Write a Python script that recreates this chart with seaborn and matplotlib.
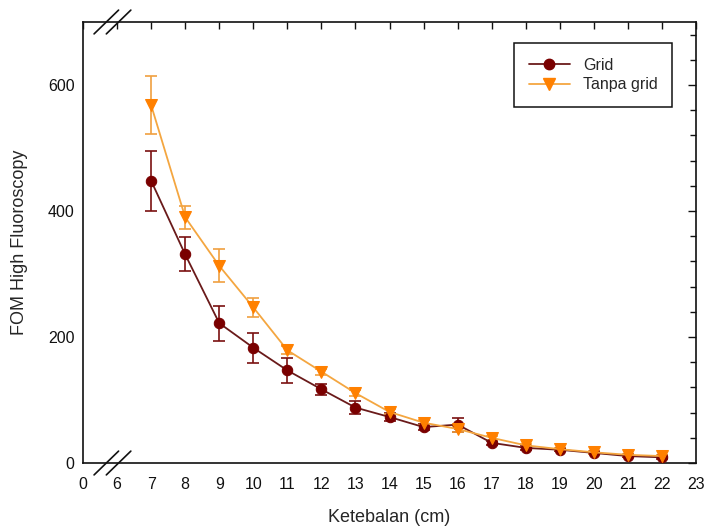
import numpy as np
import pandas as pd
import matplotlib
matplotlib.use('Agg')
import matplotlib.pyplot as plt
import matplotlib.ticker as mticker
from matplotlib.lines import Line2D
import seaborn as sns

# data
tebal = [7, 8, 9, 10, 11, 12, 13, 14, 15, 16, 17, 18, 19, 20, 21, 22]
fom_grid = [448, 331, 222, 183, 147, 117, 88, 73, 57, 61, 32, 24, 21, 16, 11, 9]
err_grid = [48, 27, 28, 24, 20, 9, 11, 6, 5, 11, 3, 3, 2, 2, 2, 2]
fom_tanpa = [568, 390, 313, 247, 179, 145, 111, 81, 64, 54, 40, 28, 22, 17, 13, 11]
err_tanpa = [46, 18, 26, 15, 6, 5, 5, 4, 4, 5, 3, 2, 2, 2, 2, 2]

xtick_pos = [5, 6, 7, 8, 9, 10, 11, 12, 13, 14, 15, 16, 17, 18, 19, 20, 21, 22, 23]
xtick_lab = ['0', '6', '7', '8', '9', '10', '11', '12', '13', '14', '15', '16',
             '17', '18', '19', '20', '21', '22', '23']

sns.set_style('white')
plt.rcParams['font.family'] = ['Liberation Sans', 'DejaVu Sans']

df = pd.DataFrame({'x': tebal * 2,
                   'y': fom_grid + fom_tanpa,
                   'seri': ['Grid'] * len(tebal) + ['Tanpa grid'] * len(tebal)})

c_grid_m = '#7a0000'
c_grid_l = '#6a1a1a'
c_tanpa_m = '#ff8000'
c_tanpa_l = '#f4a640'

fig = plt.figure(figsize=(7.06, 5.30), dpi=100)
ax = fig.add_axes([0.1176, 0.1264, 0.8683, 0.8321])

ax.errorbar(tebal, fom_grid, yerr=err_grid, fmt='none', ecolor='#7a1010',
            elinewidth=1.2, capsize=4.5, capthick=1.2, zorder=2)
ax.errorbar(tebal, fom_tanpa, yerr=err_tanpa, fmt='none', ecolor='#f0a040',
            elinewidth=1.2, capsize=4.5, capthick=1.2, zorder=2)

sns.lineplot(data=df[df.seri == 'Grid'], x='x', y='y', ax=ax, color=c_grid_l,
             lw=1.3, marker='o', markersize=7.5, markerfacecolor=c_grid_m,
             markeredgecolor=c_grid_m, zorder=3, legend=False)
sns.lineplot(data=df[df.seri == 'Tanpa grid'], x='x', y='y', ax=ax, color=c_tanpa_l,
             lw=1.3, marker='v', markersize=8.5, markerfacecolor=c_tanpa_m,
             markeredgecolor=c_tanpa_m, zorder=4, legend=False)

ax.set_xlim(5, 23)
ax.set_ylim(0, 700)
ax.set_xticks(xtick_pos)
ax.set_xticklabels(xtick_lab)
ax.yaxis.set_major_locator(mticker.MultipleLocator(200))
ax.yaxis.set_minor_locator(mticker.MultipleLocator(40))
ax.tick_params(axis='both', which='both', direction='in', top=True, right=True,
               labelsize=11.5, colors='#111111', width=1)
ax.tick_params(axis='x', which='major', length=5, pad=10)
ax.tick_params(axis='y', which='major', length=6, pad=6)
ax.tick_params(axis='y', which='minor', length=4)
for s in ax.spines.values():
    s.set_color('#111111')
    s.set_linewidth(1.2)

ax.set_xlabel('Ketebalan (cm)', fontsize=13, labelpad=12)
ax.set_ylabel('FOM High Fluoroscopy', fontsize=13, labelpad=14)

# axis break marks
for yc in (0.0, 1.0):
    for xc in (0.038, 0.058):
        ax.plot([xc - 0.02, xc + 0.02], [yc - 0.027, yc + 0.027], transform=ax.transAxes,
                color='#111111', lw=1.2, clip_on=False, zorder=6)

handles = [Line2D([], [], color=c_grid_l, lw=1.3, marker='o', markersize=7.5,
                  markerfacecolor=c_grid_m, markeredgecolor=c_grid_m),
           Line2D([], [], color=c_tanpa_l, lw=1.3, marker='v', markersize=8.5,
                  markerfacecolor=c_tanpa_m, markeredgecolor=c_tanpa_m)]
leg = ax.legend(handles, ['Grid', 'Tanpa grid'], loc='upper right',
                bbox_to_anchor=(0.961, 0.952), borderaxespad=0, fontsize=11.5,
                handlelength=2.6, fancybox=False, framealpha=1, edgecolor='#111111',
                borderpad=0.9, labelspacing=0.3)
leg.get_frame().set_linewidth(1.1)

fig.savefig('out.png', dpi=100)
